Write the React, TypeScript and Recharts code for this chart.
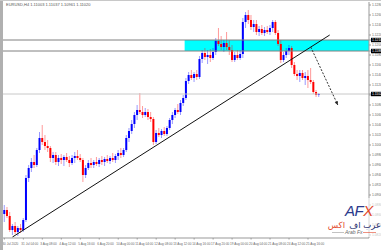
import React from "react";
import {Bar, ComposedChart, ReferenceArea, ReferenceLine, XAxis, YAxis} from "recharts";

// EURUSD H4 candles
const opens = [
	1.0862, 1.0870, 1.0858, 1.0830, 1.0838, 1.0826, 1.0834, 1.0830, 1.0850, 1.0934,
	1.0954, 1.0966, 1.0960, 1.0990, 1.1014, 1.1006, 1.0998, 1.0994, 1.0974, 1.0980,
	1.0966, 1.0974, 1.0970, 1.0976, 1.0970, 1.0964, 1.0974, 1.0978, 1.0974, 1.0970,
	1.0940, 1.0954, 1.0964, 1.0960, 1.0966, 1.0962, 1.0970, 1.0966, 1.0972, 1.0968,
	1.0974, 1.0970, 1.0978, 1.0984, 1.0980, 1.0990, 1.1014, 1.1028, 1.1042, 1.1060,
	1.1070, 1.1066, 1.1060, 1.1066, 1.1056, 1.1052, 1.1006, 1.1024, 1.1020, 1.1028,
	1.1022, 1.1034, 1.1050, 1.1060, 1.1070, 1.1066, 1.1084, 1.1094, 1.1128, 1.1140,
	1.1134, 1.1142, 1.1136, 1.1172, 1.1184, 1.1176, 1.1180, 1.1174, 1.1186, 1.1208,
	1.1202, 1.1196, 1.1204, 1.1196, 1.1190, 1.1170, 1.1180, 1.1174, 1.1182, 1.1246,
	1.1260, 1.1250, 1.1236, 1.1242, 1.1226, 1.1232, 1.1224, 1.1230, 1.1226, 1.1234,
	1.1246, 1.1224, 1.1202, 1.1170, 1.1180, 1.1188, 1.1194, 1.1160, 1.1142, 1.1138,
	1.1144, 1.1134, 1.1138, 1.1130, 1.1126, 1.1106, 1.1100
];
const highs = [
	1.0880, 1.0876, 1.0866, 1.0842, 1.0846, 1.0838, 1.0842, 1.0854, 1.0940, 1.0960,
	1.0974, 1.0980, 1.0994, 1.1026, 1.1040, 1.1020, 1.1010, 1.0998, 1.0986, 1.0986,
	1.0980, 1.0982, 1.0980, 1.0984, 1.0978, 1.0980, 1.0986, 1.0990, 1.0982, 1.0974,
	1.0960, 1.0970, 1.0974, 1.0970, 1.0976, 1.0974, 1.0978, 1.0976, 1.0980, 1.0978,
	1.0984, 1.0982, 1.0990, 1.0994, 1.0994, 1.1020, 1.1034, 1.1050, 1.1066, 1.1080,
	1.1104, 1.1078, 1.1074, 1.1072, 1.1066, 1.1056, 1.1030, 1.1034, 1.1032, 1.1036,
	1.1038, 1.1054, 1.1066, 1.1074, 1.1082, 1.1090, 1.1100, 1.1134, 1.1146, 1.1150,
	1.1146, 1.1150, 1.1178, 1.1190, 1.1194, 1.1190, 1.1192, 1.1194, 1.1214, 1.1234,
	1.1218, 1.1210, 1.1226, 1.1210, 1.1200, 1.1186, 1.1190, 1.1190, 1.1254, 1.1266,
	1.1270, 1.1260, 1.1250, 1.1250, 1.1238, 1.1240, 1.1236, 1.1238, 1.1240, 1.1250,
	1.1250, 1.1230, 1.1210, 1.1186, 1.1194, 1.1200, 1.1198, 1.1166, 1.1150, 1.1150,
	1.1150, 1.1146, 1.1150, 1.1154, 1.1130, 1.1110, 1.1104
];
const lows = [
	1.0846, 1.0854, 1.0826, 1.0820, 1.0822, 1.0818, 1.0824, 1.0826, 1.0846, 1.0926,
	1.0946, 1.0954, 1.0956, 1.0984, 1.1000, 1.0990, 1.0986, 1.0966, 1.0964, 1.0960,
	1.0958, 1.0962, 1.0958, 1.0966, 1.0956, 1.0960, 1.0964, 1.0970, 1.0966, 1.0926,
	1.0934, 1.0950, 1.0954, 1.0954, 1.0958, 1.0956, 1.0960, 1.0958, 1.0964, 1.0962,
	1.0966, 1.0964, 1.0970, 1.0974, 1.0976, 1.0986, 1.1006, 1.1022, 1.1034, 1.1050,
	1.1062, 1.1054, 1.1056, 1.1050, 1.1046, 1.1000, 1.1002, 1.1016, 1.1014, 1.1018,
	1.1018, 1.1030, 1.1042, 1.1054, 1.1062, 1.1060, 1.1078, 1.1090, 1.1122, 1.1130,
	1.1126, 1.1130, 1.1132, 1.1164, 1.1170, 1.1162, 1.1166, 1.1170, 1.1180, 1.1198,
	1.1190, 1.1186, 1.1190, 1.1180, 1.1166, 1.1166, 1.1170, 1.1170, 1.1174, 1.1234,
	1.1242, 1.1230, 1.1226, 1.1220, 1.1218, 1.1220, 1.1218, 1.1222, 1.1220, 1.1226,
	1.1220, 1.1198, 1.1164, 1.1166, 1.1174, 1.1180, 1.1154, 1.1138, 1.1130, 1.1126,
	1.1130, 1.1120, 1.1114, 1.1122, 1.1102, 1.1096, 1.1096
];
const closes = [
	1.0870, 1.0858, 1.0830, 1.0838, 1.0826, 1.0834, 1.0830, 1.0850, 1.0934, 1.0954,
	1.0966, 1.0960, 1.0990, 1.1014, 1.1006, 1.0998, 1.0994, 1.0974, 1.0980, 1.0966,
	1.0974, 1.0970, 1.0976, 1.0970, 1.0964, 1.0974, 1.0978, 1.0974, 1.0970, 1.0940,
	1.0954, 1.0964, 1.0960, 1.0966, 1.0962, 1.0970, 1.0966, 1.0972, 1.0968, 1.0974,
	1.0970, 1.0978, 1.0984, 1.0980, 1.0990, 1.1014, 1.1028, 1.1042, 1.1060, 1.1070,
	1.1066, 1.1060, 1.1066, 1.1056, 1.1052, 1.1006, 1.1024, 1.1020, 1.1028, 1.1022,
	1.1034, 1.1050, 1.1060, 1.1070, 1.1066, 1.1084, 1.1094, 1.1128, 1.1140, 1.1134,
	1.1142, 1.1136, 1.1172, 1.1184, 1.1176, 1.1180, 1.1174, 1.1186, 1.1208, 1.1202,
	1.1196, 1.1204, 1.1196, 1.1190, 1.1170, 1.1180, 1.1174, 1.1182, 1.1246, 1.1260,
	1.1250, 1.1236, 1.1242, 1.1226, 1.1232, 1.1224, 1.1230, 1.1226, 1.1234, 1.1246,
	1.1224, 1.1202, 1.1170, 1.1180, 1.1188, 1.1194, 1.1160, 1.1142, 1.1138, 1.1144,
	1.1134, 1.1138, 1.1130, 1.1126, 1.1106, 1.1100, 1.1102
];

const priceTicks = [
	1.0820, 1.0840, 1.0860, 1.0880, 1.0900, 1.0920, 1.0940, 1.0960, 1.0980, 1.1000,
	1.1020, 1.1040, 1.1060, 1.1080, 1.1100, 1.1120, 1.1140, 1.1160, 1.1180, 1.1200,
	1.1220, 1.1240, 1.1260, 1.1280
];
const timeTickIdx = [0, 7, 14, 21, 28, 35, 42, 49, 56, 63, 70, 77, 84, 91, 98, 105, 112];
const timeLabels = [
	"30 Jul 2020", "31 Jul 04:00", "3 Aug 08:00", "4 Aug 12:00", "5 Aug 16:00", "6 Aug 20:00",
	"10 Aug 00:00", "11 Aug 04:00", "12 Aug 08:00", "13 Aug 12:00", "14 Aug 16:00", "17 Aug 20:00",
	"19 Aug 00:00", "20 Aug 04:00", "21 Aug 08:00", "24 Aug 12:00", "25 Aug 16:00"
];

const zoneTop = 1.1210;
const zoneBottom = 1.1188;
const lastPrice = closes[closes.length - 1];
const trendStart = {x: 3, y: 1.0816};
const trendEnd = {x: 120, y: 1.1220};
const arrowStart = {x: 113, y: 1.1196};
const arrowEnd = {x: 123, y: 1.1080};
const slotCount = 135;

const data = Array.from({length: slotCount}, (_, i) => i < opens.length
	? {i, open: opens[i], high: highs[i], low: lows[i], close: closes[i], range: [lows[i], highs[i]]}
	: {i});

const Candle = (props: any) => {
	const {x, y, width, height, payload} = props;
	if (!payload || payload.open == null) return null;
	const {open, close, high, low} = payload;
	const color = close >= open ? "#0000ff" : "#ff0000";
	const top = Math.min(y, y + height);
	const h = Math.abs(height);
	const k = h / (high - low);
	const cx = x + width / 2;
	const bodyTop = top + (high - Math.max(open, close)) * k;
	const bodyH = Math.max(1, Math.abs(open - close) * k);
	return (
		<g>
			<line x1={cx} x2={cx} y1={top} y2={top + h} stroke={color} strokeOpacity={0.4} strokeWidth={1}/>
			<rect x={cx - 1} y={bodyTop} width={2} height={bodyH} fill={color}/>
		</g>
	);
};

const PriceTick = (props: any) => {
	const {x, y, payload} = props;
	const v = payload.value;
	const tagged = v === zoneTop || v === zoneBottom || v === lastPrice;
	if (tagged) {
		return (
			<g>
				<rect x={x - 2} y={y - 2.2} width={14} height={4.4} fill="#000"/>
				<text x={x - 1} y={y + 1.2} fontSize={3.3} fill="#fff" fontFamily="Arial, Liberation Sans">{v.toFixed(4)}</text>
			</g>
		);
	}
	return <text x={x - 1} y={y + 1.2} fontSize={3.3} fill="#666" fontFamily="Arial, Liberation Sans">{v.toFixed(4)}</text>;
};

const TimeTick = (props: any) => {
	const {x, y, payload} = props;
	const k = timeTickIdx.indexOf(payload.value);
	return <text x={x - 2} y={y + 3} fontSize={3.1} fill="#666" fontFamily="Arial, Liberation Sans">{timeLabels[k]}</text>;
};

const DashedArrow = (props: any) => {
	const {x1, y1, x2, y2} = props;
	const a = Math.atan2(y2 - y1, x2 - x1);
	const s = 4;
	const p1 = `${x2},${y2}`;
	const p2 = `${x2 - s * Math.cos(a - 0.45)},${y2 - s * Math.sin(a - 0.45)}`;
	const p3 = `${x2 - s * Math.cos(a + 0.45)},${y2 - s * Math.sin(a + 0.45)}`;
	return (
		<g>
			<line x1={x1} y1={y1} x2={x2} y2={y2} stroke="#333" strokeWidth={1} strokeDasharray="2 1.5"/>
			<polygon points={`${p1} ${p2} ${p3}`} fill="#222"/>
		</g>
	);
};

const App = () => {
	return (
		<div style={{position: "absolute", left: 0, top: 0, width: 381, height: 250, background: "#fff", overflow: "hidden"}}>
			<ComposedChart width={381} height={250} data={data} margin={{top: 2, right: 0, left: 3, bottom: 0}}>
				<XAxis dataKey="i" ticks={timeTickIdx} interval={0} height={12} tick={<TimeTick/>}
				       axisLine={{stroke: "#999"}} tickLine={{stroke: "#999"}} tickSize={1.5}/>
				<YAxis orientation="right" width={12} domain={[1.0814, 1.1286]} allowDataOverflow
				       ticks={[...priceTicks, zoneTop, zoneBottom, lastPrice]} interval={0} tick={<PriceTick/>}
				       axisLine={{stroke: "#999"}} tickLine={{stroke: "#999"}} tickSize={2}/>
				<ReferenceArea x1={67} y1={zoneBottom} y2={zoneTop} fill="#00ffff" fillOpacity={1} stroke="none"/>
				<ReferenceLine y={zoneTop} stroke="#808080" strokeWidth={1}/>
				<ReferenceLine y={zoneBottom} stroke="#808080" strokeWidth={1}/>
				<ReferenceLine y={lastPrice} stroke="#c8c8c8" strokeWidth={1}/>
				<Bar dataKey="range" shape={<Candle/>} isAnimationActive={false}/>
				<ReferenceLine segment={[trendStart, trendEnd]} stroke="#111" strokeWidth={1}/>
				<ReferenceLine segment={[arrowStart, arrowEnd]} shape={<DashedArrow/>}/>
			</ComposedChart>
			<svg width={381} height={250} style={{position: "absolute", left: 0, top: 0, pointerEvents: "none"}}>
				<rect x={0} y={0} width={3} height={250} fill="#b0b0b0"/>
				<rect x={0} y={0} width={381} height={1} fill="#c8c8c8"/>
				<text x={6} y={6} fontSize={4} fill="#555" fontFamily="Arial, Liberation Sans">EURUSD,H4  1.11003 1.11037 1.10961 1.11020</text>
				<rect x={321} y={198} width={60} height={39} fill="#fff" fillOpacity={0.6}/>
				<text x={345} y={216} fontSize={15} fontStyle="italic" fill="#2b3a8c" letterSpacing={-0.5}
				      fontFamily="Liberation Sans, Arial">AF<tspan fill="#e2472b">X</tspan></text>
				<text x={381} y={228} textAnchor="end" fontSize={8.5} fill="#1f2d6e" fontFamily="DejaVu Sans">عرب اف</text>
				<text x={345} y={228} textAnchor="end" fontSize={8.5} fill="#e2472b" fontFamily="DejaVu Sans">اكس</text>
				<line x1={332} y1={232.5} x2={344} y2={232.5} stroke="#999" strokeWidth={0.6}/>
				<text x={345} y={234} fontSize={5} fontStyle="italic" fill="#666" fontFamily="Liberation Sans, Arial">Arab Fx</text>
				<line x1={363} y1={232.5} x2={376} y2={232.5} stroke="#e2472b" strokeWidth={0.6}/>
			</svg>
		</div>
	);
};

export default App;
